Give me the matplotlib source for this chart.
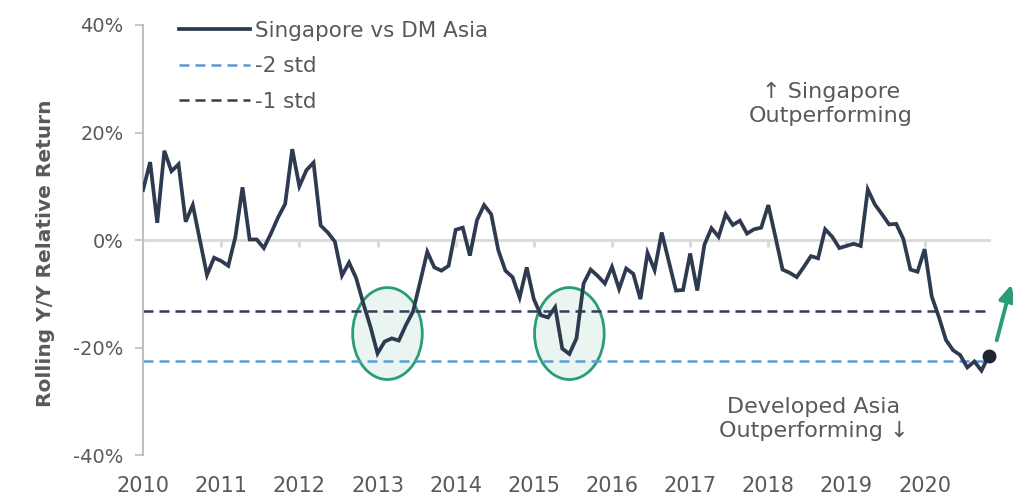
import matplotlib
matplotlib.use("Agg")
import matplotlib.pyplot as plt
from matplotlib.patches import Ellipse
import numpy as np

plt.rcParams['font.family'] = ['DejaVu Sans']

# rolling y/y relative return, Singapore vs DM Asia (%)
rel_return = [
    9.3, 14.5, 3.2, 16.6, 12.8, 14.1, 3.4, 6.5, 0.0, -6.5,
    -3.3, -3.9, -4.8, 0.6, 9.8, 0.1, 0.1, -1.5, 1.2, 4.2,
    6.7, 16.9, 10.0, 13.0, 14.4, 2.7, 1.4, -0.3, -6.6, -4.2,
    -7.1, -11.8, -16.1, -21.1, -18.9, -18.3, -18.7, -15.8, -13.3, -7.8,
    -2.2, -5.1, -5.7, -4.8, 1.9, 2.3, -2.9, 3.7, 6.5, 4.8,
    -1.9, -5.7, -6.9, -10.7, -5.1, -11.0, -14.0, -14.4, -12.5, -20.2,
    -21.2, -18.3, -8.1, -5.5, -6.7, -8.1, -5.0, -9.1, -5.3, -6.3,
    -11.0, -2.4, -5.6, 1.4, -4.0, -9.4, -9.3, -2.5, -9.4, -0.9,
    2.2, 0.6, 4.8, 2.8, 3.6, 1.2, 2.0, 2.3, 6.5, 0.6,
    -5.5, -6.1, -6.9, -5.0, -3.0, -3.4, 2.0, 0.6, -1.5, -1.1,
    -0.7, -1.1, 9.4, 6.6, 4.8, 2.9, 3.0, 0.2, -5.5, -5.9,
    -1.7, -10.5, -14.3, -18.6, -20.5, -21.4, -23.7, -22.6, -24.3, -21.6,
]
std_1 = -13.2
std_2 = -22.6
years = ['2010', '2011', '2012', '2013', '2014', '2015', '2016', '2017', '2018', '2019', '2020']
year_start = [0, 11, 22, 33, 44, 55, 66, 77, 88, 99, 110]   # index of each year's tick
circled = [(34.4, -17.4), (60.0, -17.4)]                    # the two marked troughs

x = np.arange(len(rel_return))
grey = '#595959'
navy = '#2d3a4f'
green = '#2a9d78'

fig = plt.figure(figsize=(10.13, 4.98), dpi=100)
ax = fig.add_axes([0.1412, 0.0863, 0.8375, 0.8635])

for cx, cy in circled:
    ax.add_patch(Ellipse((cx, cy), 9.8, 17.1, facecolor='#eaf4f1', edgecolor=green,
                         lw=2, zorder=1))

ax.axhline(0, color='#d9d9d9', lw=2, zorder=0)
ax.vlines(year_start[1:], -1.3, 0, color='#d9d9d9', lw=2, zorder=0)

ax.plot(x, rel_return, color=navy, lw=2.7, label='Singapore vs DM Asia', zorder=3,
        solid_joinstyle='miter')
ax.axhline(std_2, color='#5b9bd5', lw=1.8, ls=(0, (4, 2.4)), label='-2 std', zorder=2)
ax.axhline(std_1, color='#333f50', lw=1.8, ls=(0, (4, 2.4)), label='-1 std', zorder=2)
ax.plot(x[-1], rel_return[-1], 'o', color='#1f2530', ms=9, zorder=4, clip_on=False)

ax.set_xlim(0, len(rel_return) - 0.6)
ax.set_ylim(-40, 40)
ax.set_yticks([-40, -20, 0, 20, 40])
ax.set_yticklabels([f'{v}%' for v in [-40, -20, 0, 20, 40]])
ax.set_xticks(year_start)
ax.set_xticklabels(years)
ax.tick_params(axis='x', length=0, pad=15, labelsize=15, labelcolor=grey)
ax.tick_params(axis='y', length=6, width=1.2, color='#bfbfbf', pad=8,
               labelsize=14, labelcolor=grey)
for s in ['top', 'right', 'bottom']:
    ax.spines[s].set_visible(False)
ax.spines['left'].set_color('#bfbfbf')
ax.spines['left'].set_linewidth(1.5)

ax.set_ylabel('Rolling Y/Y Relative Return', fontsize=14.5, fontweight='bold',
              color=grey)
ax.yaxis.set_label_coords(-0.104, 0.47)

leg = ax.legend(loc='upper left', bbox_to_anchor=(0.02, 1.055), frameon=False,
                fontsize=15.5, handlelength=3.3, handletextpad=0.2, labelspacing=0.72)
for t in leg.get_texts():
    t.set_color(grey)

ax.text(96.8, 25.3, '↑ Singapore\nOutperforming', ha='center', va='center',
        fontsize=16, color=grey, linespacing=1.25)
ax.text(94.4, -33.3, 'Developed Asia\nOutperforming ↓', ha='center', va='center',
        fontsize=16, color=grey, linespacing=1.25)

ax.annotate('', xy=(1012, 498 - 282), xytext=(996, 498 - 343),
            xycoords='figure pixels', textcoords='figure pixels',
            arrowprops=dict(arrowstyle='-|>', color=green, lw=2.8,
                            mutation_scale=24), annotation_clip=False)

fig.savefig('out.png', dpi=100)
